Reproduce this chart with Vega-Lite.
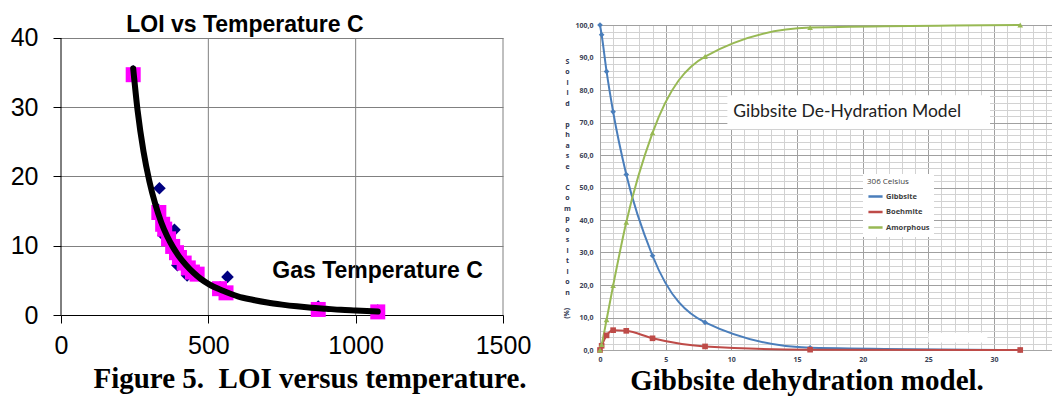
{
  "$schema": "https://vega.github.io/schema/vega-lite/v6.json",
  "background": "white",
  "padding": {"left": 10, "top": 13, "right": 0, "bottom": 0},
  "bounds": "flush",
  "spacing": 97,
  "config": {"view": {"stroke": null}, "font": "Liberation Sans"},
  "resolve": {"scale": {"color": "independent", "shape": "independent", "size": "independent", "x": "independent", "y": "independent"}, "legend": {"color": "independent", "shape": "independent"}},
  "datasets": {
    "loi": [
      {"temp": 245, "loi": 35.2, "marker": "diamond"},
      {"temp": 334, "loi": 18.3, "marker": "diamond"},
      {"temp": 330, "loi": 15.2, "marker": "diamond"},
      {"temp": 348, "loi": 11.5, "marker": "diamond"},
      {"temp": 385, "loi": 12.3, "marker": "diamond"},
      {"temp": 395, "loi": 7.2, "marker": "diamond"},
      {"temp": 428, "loi": 5.7, "marker": "diamond"},
      {"temp": 450, "loi": 6.0, "marker": "diamond"},
      {"temp": 565, "loi": 5.5, "marker": "diamond"},
      {"temp": 540, "loi": 4.0, "marker": "diamond"},
      {"temp": 873, "loi": 1.2, "marker": "diamond"},
      {"temp": 1075, "loi": 0.65, "marker": "diamond"},
      {"temp": 245, "loi": 34.7, "marker": "square"},
      {"temp": 332, "loi": 14.8, "marker": "square"},
      {"temp": 345, "loi": 13.1, "marker": "square"},
      {"temp": 352, "loi": 12.4, "marker": "square"},
      {"temp": 365, "loi": 11.0, "marker": "square"},
      {"temp": 379, "loi": 9.9, "marker": "square"},
      {"temp": 392, "loi": 9.0, "marker": "square"},
      {"temp": 402, "loi": 8.3, "marker": "square"},
      {"temp": 418, "loi": 7.5, "marker": "square"},
      {"temp": 432, "loi": 6.8, "marker": "square"},
      {"temp": 446, "loi": 6.2, "marker": "square"},
      {"temp": 462, "loi": 5.9, "marker": "square"},
      {"temp": 538, "loi": 3.8, "marker": "square"},
      {"temp": 560, "loi": 3.2, "marker": "square"},
      {"temp": 873, "loi": 0.8, "marker": "square"},
      {"temp": 1075, "loi": 0.45, "marker": "square"}
    ],
    "fit": [
      {"temp": 245, "loi": 35.6},
      {"temp": 260, "loi": 29.5},
      {"temp": 280, "loi": 23.6},
      {"temp": 300, "loi": 19.3},
      {"temp": 320, "loi": 16.0},
      {"temp": 340, "loi": 13.4},
      {"temp": 360, "loi": 11.4},
      {"temp": 380, "loi": 9.8},
      {"temp": 400, "loi": 8.5},
      {"temp": 425, "loi": 7.2},
      {"temp": 450, "loi": 6.1},
      {"temp": 475, "loi": 5.2},
      {"temp": 500, "loi": 4.5},
      {"temp": 550, "loi": 3.5},
      {"temp": 600, "loi": 2.7},
      {"temp": 650, "loi": 2.2},
      {"temp": 700, "loi": 1.8},
      {"temp": 750, "loi": 1.5},
      {"temp": 800, "loi": 1.25},
      {"temp": 850, "loi": 1.05},
      {"temp": 900, "loi": 0.9},
      {"temp": 950, "loi": 0.75},
      {"temp": 1000, "loi": 0.65},
      {"temp": 1075, "loi": 0.5}
    ],
    "model": [
      {"time": 0, "phase": "Gibbsite", "pct": 100},
      {"time": 0.125, "phase": "Gibbsite", "pct": 97},
      {"time": 0.5, "phase": "Gibbsite", "pct": 85.7},
      {"time": 1, "phase": "Gibbsite", "pct": 73.3},
      {"time": 2, "phase": "Gibbsite", "pct": 54},
      {"time": 4, "phase": "Gibbsite", "pct": 29},
      {"time": 8, "phase": "Gibbsite", "pct": 8.5},
      {"time": 16, "phase": "Gibbsite", "pct": 0.7},
      {"time": 32, "phase": "Gibbsite", "pct": 0},
      {"time": 0, "phase": "Boehmite", "pct": 0},
      {"time": 0.125, "phase": "Boehmite", "pct": 1.3},
      {"time": 0.5, "phase": "Boehmite", "pct": 4.5},
      {"time": 1, "phase": "Boehmite", "pct": 6.1},
      {"time": 2, "phase": "Boehmite", "pct": 5.9},
      {"time": 4, "phase": "Boehmite", "pct": 3.6},
      {"time": 8, "phase": "Boehmite", "pct": 1.1},
      {"time": 16, "phase": "Boehmite", "pct": 0.1},
      {"time": 32, "phase": "Boehmite", "pct": 0},
      {"time": 0, "phase": "Amorphous", "pct": 0},
      {"time": 0.125, "phase": "Amorphous", "pct": 1.7},
      {"time": 0.5, "phase": "Amorphous", "pct": 9.3},
      {"time": 1, "phase": "Amorphous", "pct": 19.8},
      {"time": 2, "phase": "Amorphous", "pct": 39.3},
      {"time": 4, "phase": "Amorphous", "pct": 66.8},
      {"time": 8, "phase": "Amorphous", "pct": 90.3},
      {"time": 16, "phase": "Amorphous", "pct": 99.2},
      {"time": 32, "phase": "Amorphous", "pct": 100}
    ]
  },
  "hconcat": [
    {
      "width": 442,
      "height": 290,
      "title": {"text": "Figure 5.\u00a0 LOI versus temperature.", "orient": "bottom", "font": "Liberation Serif", "fontSize": 29, "fontWeight": "bold", "color": "#000000", "anchor": "middle", "dx": 28, "offset": 7},
      "layer": [
        {
          "data": {"values": [{}]},
          "mark": {"type": "rule", "color": "#808080", "strokeWidth": 1},
          "encoding": {"x": {"datum": 500}, "y": {"datum": 0}, "y2": {"datum": 40}}
        },
        {
          "data": {"values": [{}]},
          "mark": {"type": "rule", "color": "#808080", "strokeWidth": 1},
          "encoding": {"x": {"datum": 1000}, "y": {"datum": 0}, "y2": {"datum": 40}}
        },
        {
          "data": {"values": [{}]},
          "mark": {"type": "rule", "color": "#808080", "strokeWidth": 1},
          "encoding": {"x": {"datum": 1500}, "y": {"datum": 0}, "y2": {"datum": 40}}
        },
        {
          "data": {"values": [{}]},
          "mark": {"type": "rule", "color": "#000000", "strokeWidth": 1},
          "encoding": {"x": {"datum": 0}, "y": {"datum": 0}, "y2": {"datum": 40}}
        },
        {
          "data": {"name": "loi"},
          "mark": {"type": "point", "filled": true, "opacity": 1},
          "encoding": {
            "x": {"field": "temp", "type": "quantitative",
              "scale": {"domain": [0, 1500], "nice": false},
              "axis": {"values": [0, 500, 1000, 1500], "format": "d", "title": "Gas Temperature C", "titleFont": "Liberation Sans", "titleFontSize": 23, "titleFontWeight": "bold", "titleColor": "#000000", "titleX": 316, "titleY": -38, "titleAlign": "center", "titleBaseline": "alphabetic", "labelFont": "Liberation Sans", "labelFontSize": 25, "labelColor": "#000000", "labelPadding": 10, "tickSize": 8, "tickColor": "#000000", "domainColor": "#000000", "grid": false, "labelFlush": false, "labelOverlap": false}},
            "y": {"field": "loi", "type": "quantitative",
              "scale": {"domain": [0, 41.877], "nice": false},
              "axis": {"values": [0, 10, 20, 30, 40], "title": null, "labelFont": "Liberation Sans", "labelFontSize": 25, "labelColor": "#000000", "labelPadding": 15, "tickSize": 8, "tickColor": "#000000", "domain": false, "grid": true, "gridColor": "#808080", "labelFlush": false}},
            "shape": {"field": "marker", "type": "nominal", "scale": {"domain": ["diamond", "square"], "range": ["diamond", "square"]}, "legend": null},
            "color": {"field": "marker", "type": "nominal", "scale": {"domain": ["diamond", "square"], "range": ["#000080", "#FF00FF"]}, "legend": null},
            "size": {"field": "marker", "type": "nominal", "scale": {"domain": ["diamond", "square"], "range": [160, 225]}, "legend": null}
          }
        },
        {
          "data": {"name": "fit"},
          "mark": {"type": "line", "color": "#000000", "strokeWidth": 6, "interpolate": "monotone", "strokeCap": "round"},
          "encoding": {
            "x": {"field": "temp", "type": "quantitative"},
            "y": {"field": "loi", "type": "quantitative"}
          }
        },
        {
          "data": {"values": [{}]},
          "mark": {"type": "text", "text": "LOI vs Temperature C", "font": "Liberation Sans", "fontSize": 23, "fontWeight": "bold", "color": "#000000", "align": "center", "baseline": "alphabetic"},
          "encoding": {"x": {"datum": 624}, "y": {"datum": 40.9}}
        }
      ]
    },
    {
      "width": 452,
      "height": 325,
      "title": {"text": "Gibbsite dehydration model.", "orient": "bottom", "font": "Liberation Serif", "fontSize": 29, "fontWeight": "bold", "color": "#000000", "anchor": "middle", "dx": -19, "offset": 5},
      "layer": [
        {
          "data": {"values": [{}]},
          "mark": {"type": "rect", "color": "white"},
          "encoding": {
            "x": {"datum": 9.7}, "x2": {"datum": 29.7},
            "y": {"datum": 78.4}, "y2": {"datum": 68.0}
          }
        },
        {
          "data": {"values": [{}]},
          "mark": {"type": "rect", "color": "white"},
          "encoding": {
            "x": {"datum": 25.0}, "x2": {"datum": 29.5},
            "y": {"datum": 5.3}, "y2": {"datum": 2.3}
          }
        },
        {
          "data": {"name": "model"},
          "mark": {"type": "line", "strokeWidth": 2, "interpolate": "monotone"},
          "encoding": {
            "x": {"field": "time", "type": "quantitative",
              "scale": {"domain": [0, 34.42], "nice": false, "zero": false},
              "axis": {"values": [0,1,2,3,4,5,6,7,8,9,10,11,12,13,14,15,16,17,18,19,20,21,22,23,24,25,26,27,28,29,30,31,32,33,34],
                "tickCount": 200,
                "labelExpr": "datum.value % 5 === 0 ? '' + datum.value : ''",
                "labelFont": "Open Sans", "labelFontSize": 7, "labelFontWeight": "bold", "labelColor": "#3a3f55", "labelPadding": 5, "labelFlush": false, "labelOverlap": false,
                "ticks": false, "tickSize": 0, "domainColor": "#a6a6a6",
                "grid": true,
                "gridColor": {"condition": {"test": "datum.value % 5 === 0", "value": "#a0a0a0"}, "value": "#d2d2d2"},
                "title": "Time in Seconds", "titleFont": "Open Sans", "titleFontSize": 6.5, "titleFontWeight": "bold", "titleColor": "#333333", "titleX": 358, "titleY": -12.5, "titleAlign": "center", "titleBaseline": "middle"}},
            "y": {"field": "pct", "type": "quantitative",
              "scale": {"domain": [0, 100], "nice": false},
              "axis": {"values": [0,2,4,6,8,10,12,14,16,18,20,22,24,26,28,30,32,34,36,38,40,42,44,46,48,50,52,54,56,58,60,62,64,66,68,70,72,74,76,78,80,82,84,86,88,90,92,94,96,98,100],
                "tickCount": 200,
                "labelExpr": "datum.value % 10 === 0 ? datum.value + ',0' : ''",
                "labelFont": "Open Sans", "labelFontSize": 7, "labelFontWeight": "bold", "labelColor": "#3a3f55", "labelPadding": 7, "labelFlush": false, "labelOverlap": false,
                "ticks": false, "tickSize": 0, "domainColor": "#a6a6a6",
                "grid": true,
                "gridColor": {"condition": {"test": "datum.value % 10 === 0", "value": "#a0a0a0"}, "value": "#d2d2d2"},
                "title": ["S","o","l","i","d","\u2800","p","h","a","s","e","\u2800","C","o","m","p","o","s","i","t","i","o","n"],
                "titleAngle": 0, "titleFont": "Open Sans", "titleFontSize": 7, "titleFontWeight": "bold", "titleColor": "#2e3550", "titleLineHeight": 10.5, "titleAlign": "center", "titleBaseline": "top", "titleX": -33, "titleY": 32}},
            "color": {"field": "phase", "type": "nominal",
              "scale": {"domain": ["Gibbsite", "Boehmite", "Amorphous"], "range": ["#4A7EBB", "#BE4B48", "#98B954"]},
              "legend": {"orient": "none", "legendX": 263, "legendY": 149, "title": "306 Celsius", "titleFont": "Open Sans", "titleFontSize": 8, "titleFontWeight": "normal", "titleColor": "#404040", "titlePadding": 2, "labelFont": "Open Sans", "labelFontSize": 7.5, "labelFontWeight": "bold", "labelColor": "#404040", "labelOffset": 2, "symbolType": "stroke", "symbolSize": 200, "symbolStrokeWidth": 2.5, "fillColor": "white", "padding": 4, "rowPadding": 1.5}}
          }
        },
        {
          "data": {"name": "model"},
          "transform": [{"filter": "datum.phase === 'Gibbsite'"}],
          "mark": {"type": "point", "shape": "diamond", "filled": true, "opacity": 1, "size": 32, "color": "#4A7EBB"},
          "encoding": {
            "x": {"field": "time", "type": "quantitative"},
            "y": {"field": "pct", "type": "quantitative"}
          }
        },
        {
          "data": {"name": "model"},
          "transform": [{"filter": "datum.phase === 'Boehmite'"}],
          "mark": {"type": "point", "shape": "square", "filled": true, "opacity": 1, "size": 32, "color": "#BE4B48"},
          "encoding": {
            "x": {"field": "time", "type": "quantitative"},
            "y": {"field": "pct", "type": "quantitative"}
          }
        },
        {
          "data": {"name": "model"},
          "transform": [{"filter": "datum.phase === 'Amorphous'"}],
          "mark": {"type": "point", "shape": "triangle-up", "filled": true, "opacity": 1, "size": 32, "color": "#98B954"},
          "encoding": {
            "x": {"field": "time", "type": "quantitative"},
            "y": {"field": "pct", "type": "quantitative"}
          }
        },
        {
          "data": {"values": [{}]},
          "mark": {"type": "text", "text": "Gibbsite De-Hydration Model", "font": "Lato", "fontSize": 17.5, "color": "#222222", "align": "left", "baseline": "alphabetic"},
          "encoding": {"x": {"datum": 10.15}, "y": {"datum": 71.6}}
        },
        {
          "data": {"values": [{}]},
          "mark": {"type": "text", "text": "(%)", "font": "Open Sans", "fontSize": 7, "fontWeight": "bold", "color": "#2e3550", "angle": 270, "align": "center", "baseline": "middle"},
          "encoding": {"x": {"datum": -2.5}, "y": {"datum": 11.3}}
        }
      ]
    }
  ]
}
